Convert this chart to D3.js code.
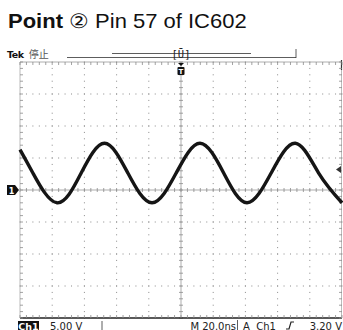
<!DOCTYPE html>
<html><head><meta charset="utf-8">
<script src="https://cdn.jsdelivr.net/npm/d3@7"></script>
<style>
html,body{margin:0;padding:0;background:#fff;overflow:hidden}
svg{display:block}
</style></head>
<body>
<script>
// ---- data (time in ns, voltage in V) ----
const title = "Pin 57 of IC602";
const pointLabel = "Point";
const pointNumber = "②";
const timeDomain = [-100, 100];       // 20 ns/div, 10 divs
const voltDomain = [-20, 20];         // 5 V/div, 8 divs
const traceTimes = [-100, -92, -77, -62, -47.5, -33, -18, -3, 11.8, 26.5, 41, 56, 71, 85.5, 100];
const traceVolts = [6.3, 2.65, -2.0, 2.65, 7.3, 2.65, -2.0, 2.65, 7.3, 2.65, -2.0, 2.65, 7.3, 2.65, -2.0];
const statusLeft = ["Ch1", "5.00 V"];
const statusRight = ["M 20.0ns", "A  Ch1", "3.20 V"];
const triggerLevel = 3.2;
const groundLevel = 0;

const W = 343, H = 330;
const svg = d3.select("body").append("svg").attr("width", W).attr("height", H);

const x = d3.scaleLinear().domain(timeDomain).range([20, 342]);
const y = d3.scaleLinear().domain(voltDomain).range([318, 62]);

// Title
const t = svg.append("text").attr("transform", "translate(8,28) scale(1.1,1)")
  .attr("font-family", "Liberation Sans, Arial, sans-serif").attr("font-size", 20).attr("fill", "#111");
t.append("tspan").attr("font-weight", "bold").text(pointLabel + " ");
t.append("tspan").text(pointNumber + " " + title);

// Tek header
const tk = svg.append("text").attr("x", 7).attr("y", 58)
  .attr("font-family", "DejaVu Sans, sans-serif").attr("font-size", 9.5).attr("fill", "#111");
tk.append("tspan").attr("font-weight", "bold").attr("letter-spacing", -0.4).text("Tek");
tk.append("tspan").attr("dx", 5).attr("fill", "#555").attr("font-family", "Noto Sans CJK SC").attr("font-size", 10).text("停止");

// record-length bar
svg.append("line").attr("x1", 67).attr("x2", 296).attr("y1", 57.5).attr("y2", 57.5).attr("stroke", "#333").attr("stroke-width", 0.8);
svg.append("line").attr("x1", 296).attr("x2", 296).attr("y1", 49).attr("y2", 58).attr("stroke", "#333").attr("stroke-width", 0.8);
svg.append("line").attr("x1", 112).attr("x2", 251).attr("y1", 53.5).attr("y2", 53.5).attr("stroke", "#333").attr("stroke-width", 0.8);
// bracket with T
svg.append("text").attr("x", x(0)).attr("y", 58).attr("text-anchor", "middle")
  .attr("font-family", "DejaVu Sans Mono, monospace").attr("font-size", 10.5).attr("fill", "#222").text("[Ū]");

// Grid
const g = svg.append("g");
const gridCol = "#8a8a8a";
const majorT = d3.range(-100, 100.01, 20);
const majorV = d3.range(-20, 20.01, 5);
const minorT = d3.range(-100, 100.01, 4);
const minorV = d3.range(-20, 20.01, 1);

// dotted major grid lines: dots at minor positions
majorV.forEach(v => {
  if (v === 0 || v === 20 || v === -20) return;
  g.selectAll(null).data(minorT).enter().append("rect")
    .attr("x", d => x(d) - 0.5).attr("y", y(v) - 0.5).attr("width", 1).attr("height", 1).attr("fill", gridCol);
});
majorT.forEach(tt => {
  if (tt === 0 || tt === 100 || tt === -100) return;
  g.selectAll(null).data(minorV).enter().append("rect")
    .attr("x", x(tt) - 0.5).attr("y", d => y(d) - 0.5).attr("width", 1).attr("height", 1).attr("fill", gridCol);
});
// center axes
g.append("line").attr("x1", x(-100)).attr("x2", x(100)).attr("y1", y(0)).attr("y2", y(0)).attr("stroke", gridCol).attr("stroke-width", 0.7);
g.append("line").attr("x1", x(0)).attr("x2", x(0)).attr("y1", y(20)).attr("y2", y(-20)).attr("stroke", gridCol).attr("stroke-width", 0.7);
g.selectAll(null).data(minorT).enter().append("line")
  .attr("x1", d => x(d)).attr("x2", d => x(d)).attr("y1", y(0) - 2).attr("y2", y(0) + 2).attr("stroke", gridCol).attr("stroke-width", 0.8);
g.selectAll(null).data(minorV).enter().append("line")
  .attr("y1", d => y(d)).attr("y2", d => y(d)).attr("x1", x(0) - 2).attr("x2", x(0) + 2).attr("stroke", gridCol).attr("stroke-width", 0.8);
// border
g.append("line").attr("x1", x(-100)).attr("x2", x(100)).attr("y1", y(20)).attr("y2", y(20)).attr("stroke", "#999").attr("stroke-width", 0.8);
g.append("line").attr("x1", x(-100)).attr("x2", x(100)).attr("y1", y(-20)).attr("y2", y(-20)).attr("stroke", "#222").attr("stroke-width", 1.6);
g.append("line").attr("x1", x(-100)).attr("x2", x(-100)).attr("y1", y(20)).attr("y2", y(-20)).attr("stroke", "#aaa").attr("stroke-width", 0.8);
g.append("line").attr("x1", x(100)-0.5).attr("x2", x(100)-0.5).attr("y1", y(20)).attr("y2", y(-20)).attr("stroke", "#aaa").attr("stroke-width", 0.8);
g.append("line").attr("x1", x(100)-0.5).attr("x2", x(100)-0.5).attr("y1", y(20)-2).attr("y2", y(20)+8).attr("stroke", "#333").attr("stroke-width", 1.2);
// border ticks
g.selectAll(null).data(minorT).enter().append("line")
  .attr("x1", d => x(d)).attr("x2", d => x(d)).attr("y1", y(20)).attr("y2", y(20) + 3).attr("stroke", gridCol).attr("stroke-width", 0.8);
g.selectAll(null).data(minorT).enter().append("line")
  .attr("x1", d => x(d)).attr("x2", d => x(d)).attr("y1", y(-20)).attr("y2", y(-20) - 3).attr("stroke", gridCol).attr("stroke-width", 0.8);
g.selectAll(null).data(minorV).enter().append("line")
  .attr("y1", d => y(d)).attr("y2", d => y(d)).attr("x1", x(-100)).attr("x2", x(-100) + 3).attr("stroke", gridCol).attr("stroke-width", 0.8);
g.selectAll(null).data(minorV).enter().append("line")
  .attr("y1", d => y(d)).attr("y2", d => y(d)).attr("x1", x(100)).attr("x2", x(100) - 3).attr("stroke", gridCol).attr("stroke-width", 0.8);

// Trace
const pts = traceTimes.map((tt, i) => [tt, traceVolts[i]]);
const line = d3.line().x(d => x(d[0])).y(d => y(d[1])).curve(d3.curveNatural);
svg.append("path").attr("d", line(pts)).attr("fill", "none").attr("stroke", "#151515").attr("stroke-width", 3.4).attr("stroke-linecap", "butt");

// Trigger position marker (T) at top
const tx = x(0);
svg.append("path").attr("d", `M${tx-3},${y(20)+1} L${tx+3},${y(20)+1} L${tx},${y(20)+4} Z`).attr("fill", "#111");
svg.append("rect").attr("x", tx - 3.5).attr("y", y(20) + 5).attr("width", 7).attr("height", 8).attr("rx", 1).attr("fill", "#111");
svg.append("text").attr("x", tx).attr("y", y(20) + 12).attr("text-anchor", "middle").attr("font-family", "DejaVu Sans").attr("font-weight", "bold").attr("font-size", 7).attr("fill", "#fff").text("T");

// Ground marker (1) on left
const gy = y(groundLevel);
svg.append("path").attr("d", `M7,${gy-5} L15,${gy-5} L19,${gy} L15,${gy+5} L7,${gy+5} Z`).attr("fill", "#111");
svg.append("text").attr("x", 11.5).attr("y", gy + 3.5).attr("text-anchor", "middle").attr("font-family", "DejaVu Sans").attr("font-weight", "bold").attr("font-size", 8).attr("fill", "#fff").text("1");

// Trigger level arrow on right
const ty = y(triggerLevel);
svg.append("path").attr("d", `M336,${ty} L341,${ty-3.5} L341,${ty+3.5} Z`).attr("fill", "#333");

// Status bar
const sf = "DejaVu Sans, sans-serif";
const fs = 10;
svg.append("rect").attr("x", 18).attr("y", 321).attr("width", 21).attr("height", 10).attr("fill", "#111");
svg.append("text").attr("x", 28.5).attr("y", 329.5).attr("text-anchor", "middle").attr("font-family", sf).attr("font-weight", "bold").attr("font-size", 9.5).attr("fill", "#fff").text(statusLeft[0]);
svg.append("text").attr("x", 50).attr("y", 329.5).attr("font-family", sf).attr("font-size", fs).attr("fill", "#222").text(statusLeft[1]);
svg.append("line").attr("x1", 102).attr("x2", 102).attr("y1", 321).attr("y2", 330).attr("stroke", "#333").attr("stroke-width", 0.8);
svg.append("text").attr("x", 236).attr("y", 329.5).attr("text-anchor", "end").attr("font-family", sf).attr("font-size", fs).attr("fill", "#222").text(statusRight[0]);
svg.append("line").attr("x1", 237.5).attr("x2", 237.5).attr("y1", 320).attr("y2", 330).attr("stroke", "#333").attr("stroke-width", 0.8);
svg.append("text").attr("x", 243).attr("y", 329.5).attr("font-family", sf).attr("font-size", fs).attr("fill", "#222").attr("xml:space", "preserve").text(statusRight[1]);
svg.append("path").attr("d", "M286,329 L289,329 L291,322 L294,322").attr("fill", "none").attr("stroke", "#222").attr("stroke-width", 1.2);
svg.append("text").attr("x", 342).attr("y", 329.5).attr("text-anchor", "end").attr("font-family", sf).attr("font-size", fs).attr("fill", "#222").text(statusRight[2]);
</script>
</body></html>
